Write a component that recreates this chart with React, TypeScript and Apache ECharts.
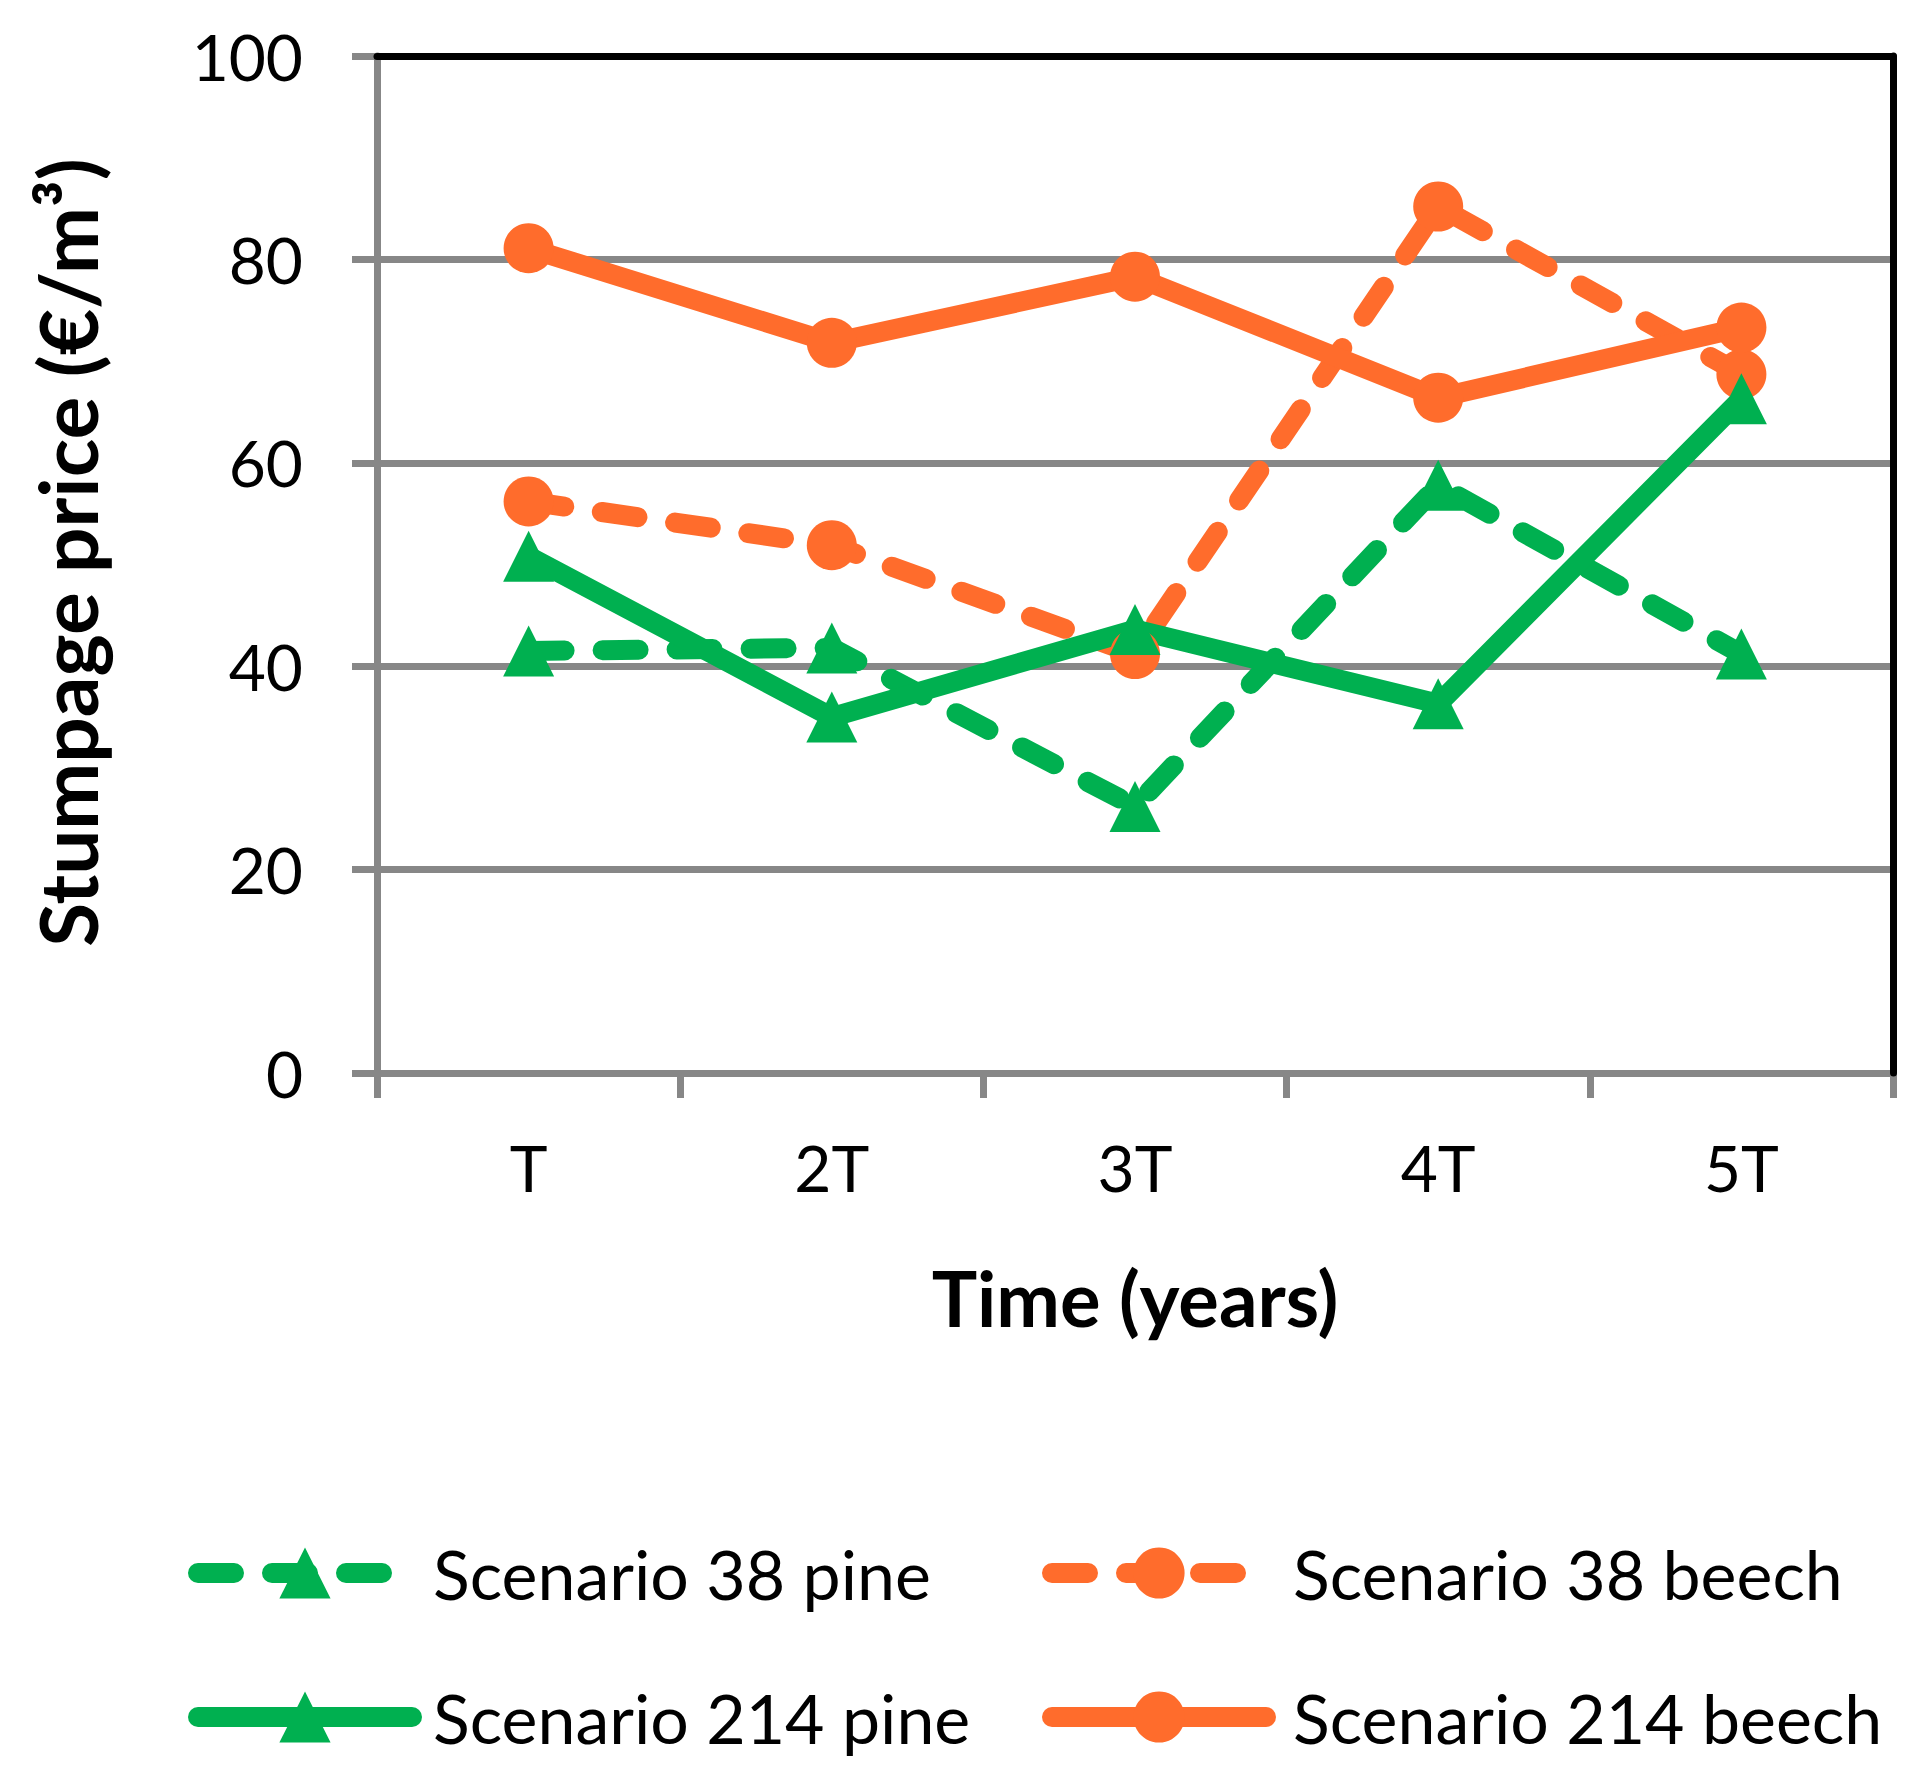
import React, { useEffect, useRef } from "react";
import * as echarts from "echarts";

const categories = ["T", "2T", "3T", "4T", "5T"];
const pine38 = [41.5, 41.8, 26.2, 57.8, 41.2];
const beech38 = [56.2, 51.9, 41.2, 85.2, 68.7];
const pine214 = [50.8, 35.0, 43.6, 36.3, 66.3];
const beech214 = [81.1, 71.8, 78.3, 66.4, 73.3];
const seriesNames = ["Scenario 38 pine", "Scenario 38 beech", "Scenario 214 pine", "Scenario 214 beech"];
const yTitle = "Stumpage price (€/m³)";
const xTitle = "Time (years)";

const GREEN = "#00B050";
const ORANGE = "#FF6C2C";
const GRAY = "#878787";
const FONT = "Lato";
const DASH = [36, 38];

export default function App() {
  const ref = useRef<HTMLDivElement>(null);
  useEffect(() => {
    document.body.style.margin = "0";
    const chart = echarts.init(ref.current!, null, { renderer: "svg" });
    const mk = (name: string, data: number[], color: string, dashed: boolean, symbol: string, size: number) => ({
      name,
      type: "line",
      data,
      symbol,
      symbolSize: size,
      showSymbol: true,
      itemStyle: { color },
      lineStyle: { color, width: 20, type: dashed ? DASH : "solid", cap: "round", join: "round" },
      emphasis: { disabled: true },
    });
    const legendItem = (name: string, left: number, top: number, pad: number) => ({
      orient: "horizontal",
      left,
      top,
      padding: 0,
      itemWidth: 214,
      itemHeight: 64,
      selectedMode: false,
      lineStyle: { width: 20 },
      textStyle: { fontSize: 68, fontFamily: FONT, color: "#000", lineHeight: 64, padding: [0, 0, 0, pad] },
      data: [name],
    });
    chart.setOption({
      animation: false,
      backgroundColor: "#fff",
      grid: { left: 377, right: 38, top: 56, bottom: 693, containLabel: false },
      legend: [
        legendItem(seriesNames[0], 188, 1539, 16),
        legendItem(seriesNames[2], 188, 1683, 16),
        legendItem(seriesNames[1], 1042, 1539, 22),
        legendItem(seriesNames[3], 1042, 1683, 22),
      ],
      xAxis: [
        {
          type: "category",
          data: categories,
          boundaryGap: true,
          axisLine: { show: true, lineStyle: { color: GRAY, width: 7 } },
          axisTick: { show: true, length: 25, interval: 0, lineStyle: { color: GRAY, width: 7 } },
          axisLabel: { margin: 62, fontSize: 64, fontFamily: FONT, color: "#000" },
          splitLine: { show: false },
          name: xTitle,
          nameLocation: "middle",
          nameGap: 186,
          nameTextStyle: { fontSize: 76, fontWeight: "bold", fontFamily: FONT, color: "#000" },
        },
        {
          type: "category",
          data: categories,
          position: "top",
          z: 5,
          axisLine: { show: true, onZero: false, lineStyle: { color: "#000", width: 7 } },
          axisTick: { show: false },
          axisLabel: { show: false },
          splitLine: { show: false },
        },
      ],
      yAxis: [
        {
          type: "value",
          min: 0,
          max: 100,
          interval: 20,
          axisLine: { show: true, lineStyle: { color: GRAY, width: 7 } },
          axisTick: { show: true, length: 25, lineStyle: { color: GRAY, width: 7 } },
          axisLabel: { margin: 74, fontSize: 64, fontFamily: FONT, color: "#000" },
          splitLine: { show: true, showMaxLine: false, showMinLine: false, lineStyle: { color: GRAY, width: 7 } },
          name: yTitle,
          nameLocation: "middle",
          nameRotate: 90,
          nameGap: 270,
          nameTextStyle: { fontSize: 80, fontWeight: "bold", fontFamily: FONT, color: "#000", padding: [0, 0, 0, 24] },
        },
        {
          type: "value",
          min: 0,
          max: 100,
          interval: 20,
          position: "right",
          z: 5,
          axisLine: { show: true, onZero: false, lineStyle: { color: "#000", width: 7 } },
          axisTick: { show: false },
          axisLabel: { show: false },
          splitLine: { show: false },
        },
      ],
      series: [
        mk(seriesNames[0], pine38, GREEN, true, "triangle", 51),
        mk(seriesNames[1], beech38, ORANGE, true, "circle", 50),
        mk(seriesNames[2], pine214, GREEN, false, "triangle", 51),
        mk(seriesNames[3], beech214, ORANGE, false, "circle", 50),
      ],
    });
    return () => chart.dispose();
  }, []);
  return <div ref={ref} style={{ width: 1931, height: 1766 }} />;
}
